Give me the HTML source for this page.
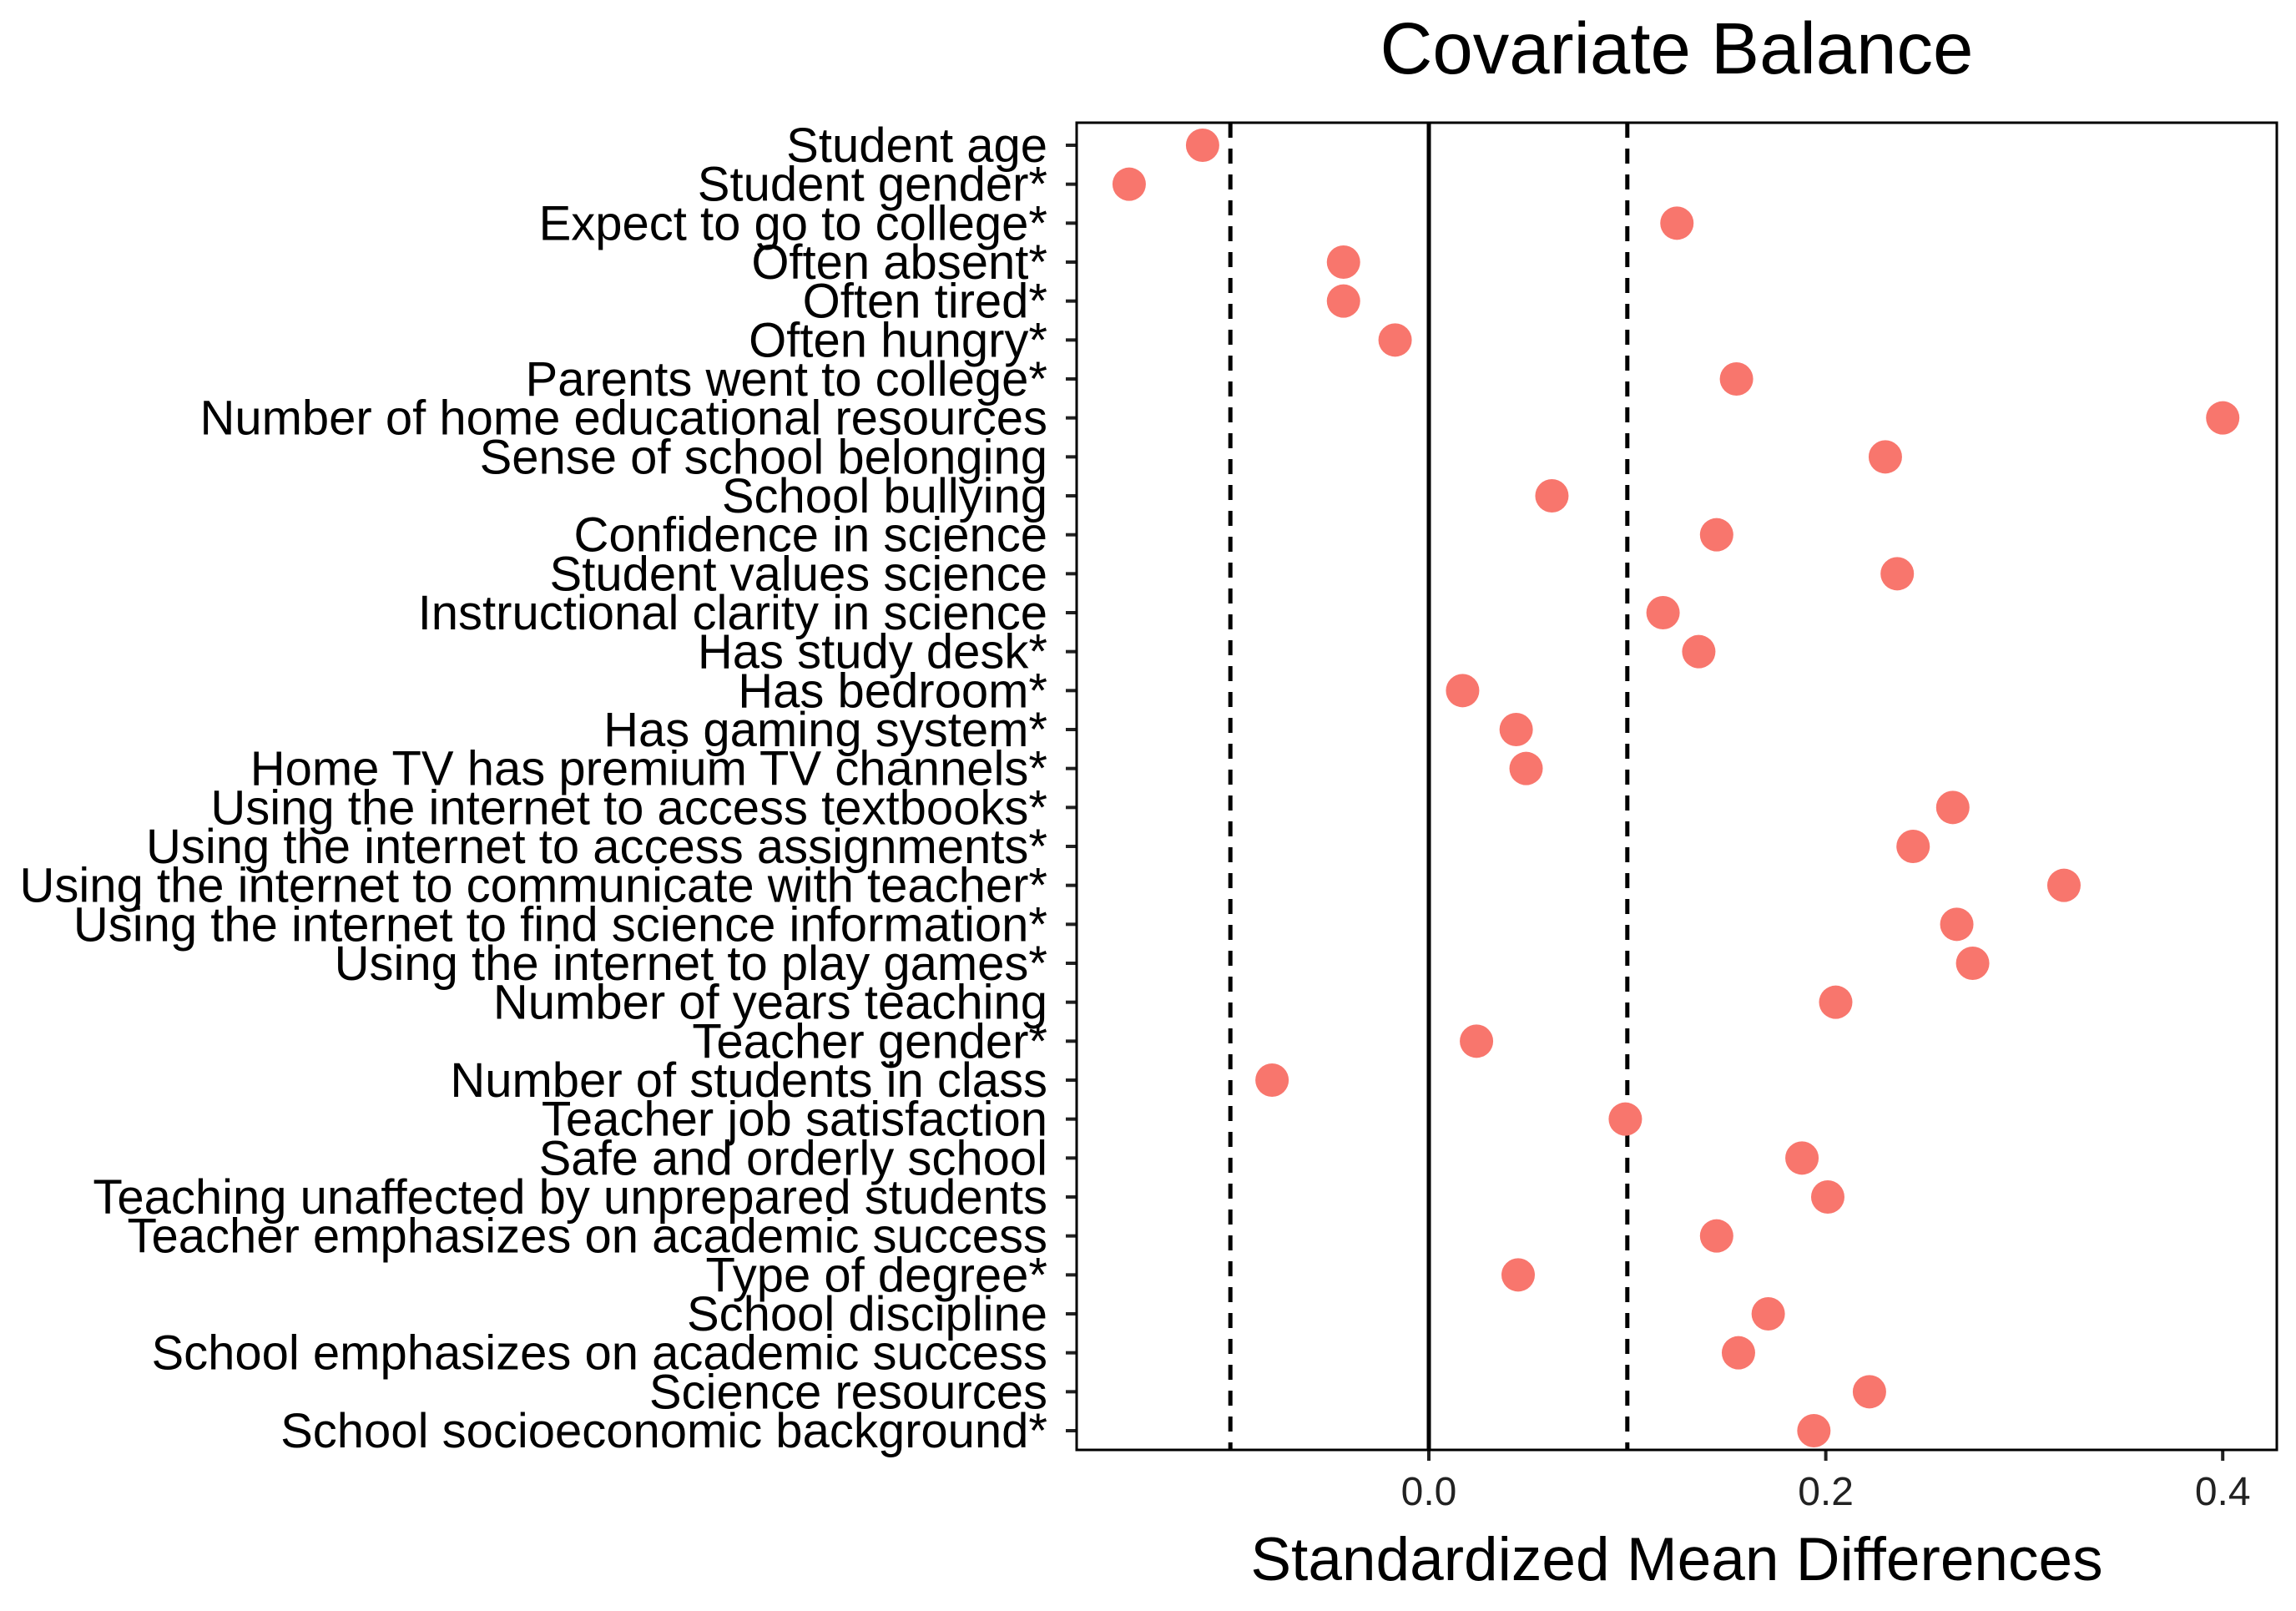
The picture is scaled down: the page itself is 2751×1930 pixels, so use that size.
<!DOCTYPE html>
<html><head><meta charset="utf-8"><style>
html,body{margin:0;padding:0;background:#fff;}
svg{display:block;font-family:"Liberation Sans",Arial,sans-serif;}
</style></head><body>
<svg id="chart" width="2751" height="1930" viewBox="0 0 2751 1930">
<rect width="2751" height="1930" fill="#fff"/>
<text x="2009" y="88" font-size="87" text-anchor="middle" fill="#000">Covariate Balance</text>
<g id="plot"></g>
<text x="2009" y="1893" font-size="73" text-anchor="middle" fill="#000">Standardized Mean Differences</text>
</svg>
<script>
const categories = ["Student age","Student gender*","Expect to go to college*","Often absent*","Often tired*","Often hungry*","Parents went to college*","Number of home educational resources","Sense of school belonging","School bullying","Confidence in science","Student values science","Instructional clarity in science","Has study desk*","Has bedroom*","Has gaming system*","Home TV has premium TV channels*","Using the internet to access textbooks*","Using the internet to access assignments*","Using the internet to communicate with teacher*","Using the internet to find science information*","Using the internet to play games*","Number of years teaching","Teacher gender*","Number of students in class","Teacher job satisfaction","Safe and orderly school","Teaching unaffected by unprepared students","Teacher emphasizes on academic success","Type of degree*","School discipline","School emphasizes on academic success","Science resources","School socioeconomic background*"];
const smdValues = [-0.114,-0.151,0.125,-0.043,-0.043,-0.017,0.155,0.400,0.230,0.062,0.145,0.236,0.118,0.136,0.017,0.044,0.049,0.264,0.244,0.320,0.266,0.274,0.205,0.024,-0.079,0.099,0.188,0.201,0.145,0.045,0.171,0.156,0.222,0.194];
const xTicks = [0.0,0.2,0.4];
const xTickLabels = ["0.0","0.2","0.4"];
const thresholds = [-0.1,0.1];

const NS="http://www.w3.org/2000/svg";
const L=1290,R=2728,T=147,B=1737;
const x0=1712, perUnit=2378;
function xs(v){return x0+v*perUnit;}
const firstY=174,lastY=1714;
function ys(i){return firstY+i*(lastY-firstY)/(categories.length-1);}
const g=document.getElementById('plot');
function mk(tag,attrs){const e=document.createElementNS(NS,tag);for(const k in attrs)e.setAttribute(k,attrs[k]);g.appendChild(e);return e;}

thresholds.forEach(t=>{
  const l=mk('line',{x1:xs(t),x2:xs(t),y1:T,y2:B,stroke:'#000','stroke-width':5,'stroke-dasharray':'18,13'});
  
  
});
const z=mk('line',{x1:xs(0),x2:xs(0),y1:T,y2:B,stroke:'#000','stroke-width':5});



categories.forEach((c,i)=>{
  const y=ys(i);
  const tk=mk('line',{x1:L-13,x2:L,y1:y,y2:y,stroke:'#222','stroke-width':4});
  
  
  const t=mk('text',{x:L-35,y:y+20,'font-size':58,'text-anchor':'end',fill:'#000'});
  t.textContent=c;
  
  
  const p=mk('circle',{cx:xs(smdValues[i]),cy:y,r:20,fill:'#F8766D'});
  
  
});
xTicks.forEach((v,i)=>{
  const tk=mk('line',{x1:xs(v),x2:xs(v),y1:B,y2:B+13,stroke:'#222','stroke-width':4});
  
  
  const t=mk('text',{x:xs(v),y:B+66,'font-size':48,'text-anchor':'middle',fill:'#222'});
  t.textContent=xTickLabels[i];
  
  
});
const fr=mk('rect',{x:L,y:T,width:R-L,height:B-T,fill:'none',stroke:'#000','stroke-width':3});


</script>
</body></html>
